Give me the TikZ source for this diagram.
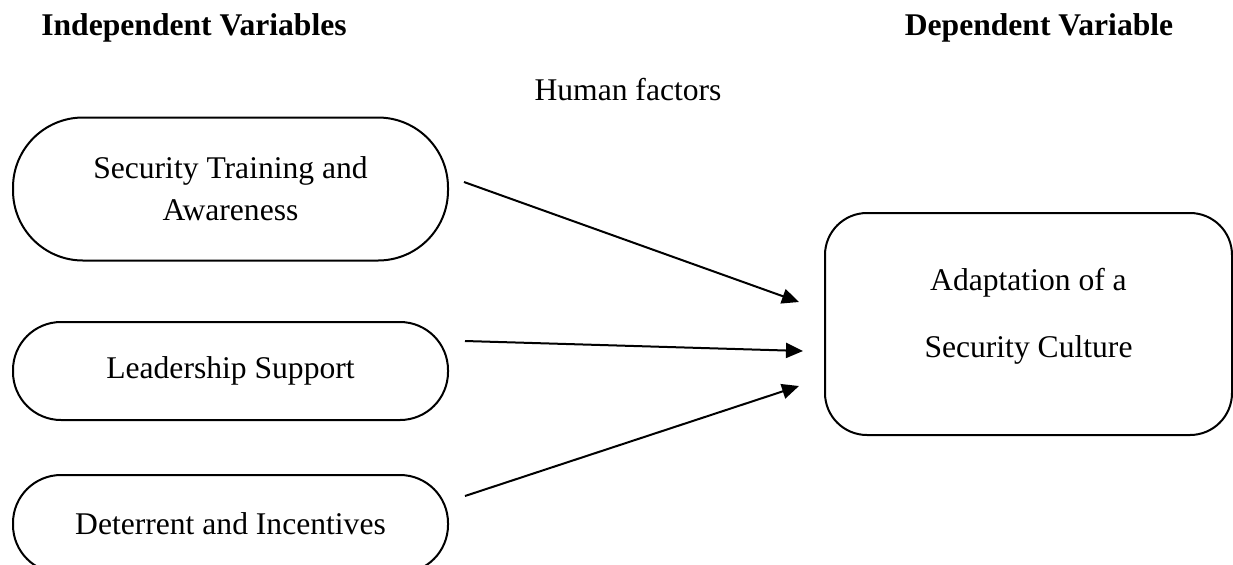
\documentclass[tikz,border=0pt]{standalone}
\usepackage{fontspec}
\setmainfont{Liberation Serif}
\usetikzlibrary{arrows.meta,calc}
\begin{document}
\begin{tikzpicture}[x=0.5pt,y=-0.5pt,
  every node/.style={font=\fontsize{15.8}{21}\selectfont},
  pill/.style={draw,line width=1pt,inner sep=0pt,align=center,minimum width=217.5pt},
  result/.style={draw,line width=1pt,inner sep=0pt,align=center,rounded corners=21pt,
     minimum width=203.5pt,minimum height=111pt},
  heading/.style={font=\fontsize{15.8}{21}\selectfont\bfseries,anchor=base,inner sep=0pt},
  plain/.style={anchor=base,inner sep=0pt},
  arr/.style={line width=1pt,-{Triangle[length=8.5pt,width=7.5pt]}}
]
\useasboundingbox (0,0) rectangle (1233,564);
\node[heading] (hind) at (194,35) {Independent Variables};
\node[heading] (hdep) at (1039,35) {Dependent Variable};
\node[plain] (hum) at (628,100) {Human factors};

\node[pill,rounded corners=35pt,minimum height=71.5pt] (b1) at (230.5,189) {Security Training and\\Awareness};
\node[pill,rounded corners=24pt,minimum height=49pt] (b2) at (230.5,371) {Leadership Support};
\node[pill,rounded corners=24pt,minimum height=49pt] (b3) at (230.5,524) {Deterrent and Incentives};

\node[result,text depth=11pt] (res) at (1028.5,324) {Adaptation of a\\[12.5pt]Security Culture};

\draw[arr] ($(b1.east)+(15,-7)$) -- ($(res.west)+(-25,-22)$);
\draw[arr] ($(b2.east)+(16,-30)$) -- ($(res.west)+(-21,27)$);
\draw[arr] ($(b3.east)+(16,-28)$) -- ($(res.west)+(-25,62)$);
\end{tikzpicture}
\end{document}
